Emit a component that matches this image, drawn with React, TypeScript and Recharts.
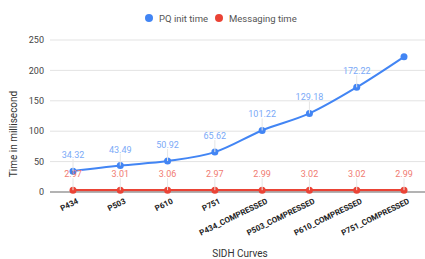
import React from 'react';
import { LineChart, Line, XAxis, YAxis, CartesianGrid, LabelList } from 'recharts';

const curves = ['P434', 'P503', 'P610', 'P751', 'P434_COMPRESSED', 'P503_COMPRESSED', 'P610_COMPRESSED', 'P751_COMPRESSED'];
const pqInitTime = [34.32, 43.49, 50.92, 65.62, 101.22, 129.18, 172.22, 222.4];
const messagingTime = [2.97, 3.01, 3.06, 2.97, 2.99, 3.02, 3.02, 2.99];
const yTicks = [0, 50, 100, 150, 200, 250];
const legendItems = [
  { name: 'PQ init time', color: '#4285f4', left: 145 },
  { name: 'Messaging time', color: '#ea4335', left: 215 },
];

const data = curves.map((c, i) => ({ curve: c, pq: pqInitTime[i], msg: messagingTime[i] }));

const FONT = 'Roboto, Arial, sans-serif';

function makeLabel(color: string, skipLast: boolean) {
  return (props: any) => {
    const { x, y, value, index } = props;
    if (skipLast && index === curves.length - 1) return null;
    return (
      <g>
        <line x1={x} x2={x} y1={y - 12} y2={y} stroke="#e6e6e6" strokeWidth={1} />
        <text x={x} y={y - 13} textAnchor="middle" fontSize={9} fill={color} fontFamily={FONT}>
          {value.toFixed(2)}
        </text>
      </g>
    );
  };
}

const XTick = (props: any) => {
  const { x, y, payload } = props;
  return (
    <text
      x={x + 6}
      y={y + 3}
      textAnchor="end"
      fontSize={8}
      fontWeight="bold"
      fill="#222"
      fontFamily={FONT}
      transform={`rotate(-26, ${x + 6}, ${y + 3})`}
    >
      {payload.value}
    </text>
  );
};

export default function App() {
  return (
    <div style={{ position: 'absolute', left: 0, top: 0, width: 425, height: 259, background: '#fff' }}>
      {legendItems.map((it) => (
        <div
          key={it.name}
          style={{
            position: 'absolute',
            top: 12,
            left: it.left,
            height: 12,
            display: 'flex',
            alignItems: 'center',
            fontFamily: FONT,
            fontSize: 9.5,
            color: '#555',
            whiteSpace: 'nowrap',
          }}
        >
          <span style={{ width: 8, height: 8, borderRadius: 4, background: it.color, marginRight: 6 }} />
          {it.name}
        </div>
      ))}
      <LineChart width={425} height={259} data={data} margin={{ top: 40, right: 0, left: 0, bottom: 0 }}>
        <CartesianGrid vertical={false} stroke="#e3e3e3" />
        <XAxis
          dataKey="curve"
          height={67}
          interval={0}
          padding={{ left: 23, right: 21 }}
          tickLine={false}
          axisLine={{ stroke: '#9e9e9e', strokeWidth: 1.5 }}
          tick={<XTick />}
          label={{
            content: () => (
              <text x={240} y={257} textAnchor="middle" fontSize={10} fill="#333" fontFamily={FONT}>
                SIDH Curves
              </text>
            ),
          }}
        />
        <YAxis
          width={50}
          domain={[0, 250]}
          ticks={yTicks}
          tickLine={false}
          axisLine={false}
          tickSize={4}
          tickMargin={2}
          tick={{ fontSize: 9, fill: '#444', fontFamily: FONT }}
          label={{
            content: () => (
              <text
                x={14}
                y={134}
                textAnchor="middle"
                fontSize={10}
                fill="#333"
                fontFamily={FONT}
                transform="rotate(-90, 14, 134)"
                dominantBaseline="middle"
              >
                Time in millisecond
              </text>
            ),
          }}
        />
        <Line
          type="monotone"
          dataKey="msg"
          stroke="#ea4335"
          strokeWidth={2.5}
          dot={{ r: 3.5, fill: '#ea4335', stroke: '#ea4335', strokeWidth: 0 }}
          isAnimationActive={false}
        >
          <LabelList dataKey="msg" content={makeLabel('#f07b72', false)} />
        </Line>
        <Line
          type="monotone"
          dataKey="pq"
          stroke="#4285f4"
          strokeWidth={2}
          dot={{ r: 3.5, fill: '#4285f4', stroke: '#4285f4', strokeWidth: 0 }}
          isAnimationActive={false}
        >
          <LabelList dataKey="pq" content={makeLabel('#7baaf7', true)} />
        </Line>
      </LineChart>
    </div>
  );
}
